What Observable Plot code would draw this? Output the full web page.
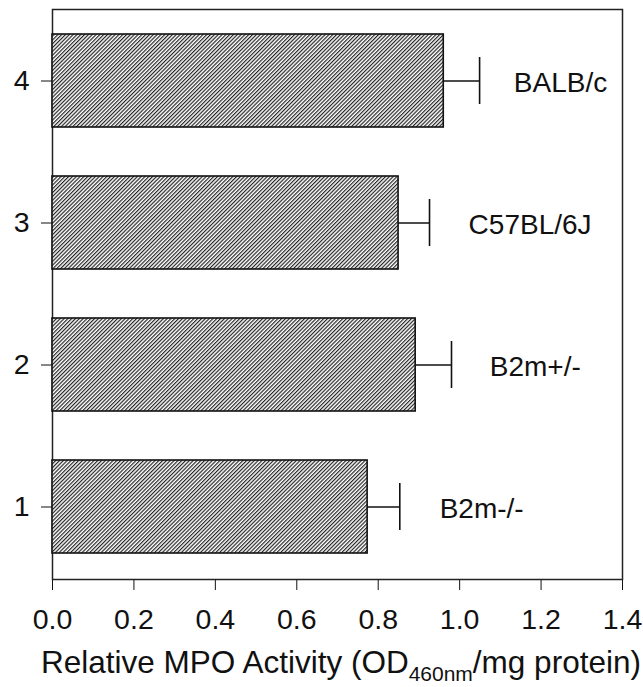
<!DOCTYPE html>
<html>
<head>
<meta charset="utf-8">
<script src="https://cdn.jsdelivr.net/npm/d3@7"></script>
<script src="https://cdn.jsdelivr.net/npm/@observablehq/plot@0.6"></script>
<style>
  html, body { margin: 0; padding: 0; background: #fff; }
</style>
</head>
<body>
<div id="chart"></div>
<script>
const categories = [1, 2, 3, 4];
const strains = ["B2m-/-", "B2m+/-", "C57BL/6J", "BALB/c"];
const means = [0.774, 0.892, 0.850, 0.961];
const errTops = [0.853, 0.980, 0.926, 1.049];
const labelX = [0.951, 1.074, 1.022, 1.133];
const xTicks = [0, 0.2, 0.4, 0.6, 0.8, 1.0, 1.2, 1.4];

const data = categories.map((c, i) => ({
  cat: c, strain: strains[i], mean: means[i], err: errTops[i], lx: labelX[i]
}));

const svg = Plot.plot({
  width: 643,
  height: 687,
  marginLeft: 52,
  marginRight: 21,
  marginTop: 9,
  marginBottom: 108,
  style: { fontFamily: "'Liberation Sans', Arial, sans-serif", fontSize: "28.5px", background: "white", color: "#111" },
  x: { domain: [0, 1.4], ticks: xTicks, tickFormat: d3.format(".1f"), tickSize: 11, tickPadding: 18, label: null },
  y: { domain: [4, 3, 2, 1], paddingInner: 0.343, paddingOuter: 0.176, tickSize: 11, tickPadding: 12, label: null },
  marks: [
    Plot.frame({ stroke: "#222", strokeWidth: 1.5 }),
    Plot.barX(data, { x: "mean", y: "cat", fill: "url(#hatch)", stroke: "#111", strokeWidth: 1.6 }),
    Plot.ruleY(data, { x1: "mean", x2: "err", y: "cat", stroke: "#111", strokeWidth: 1.5 }),
    Plot.tickX(data, { x: "err", y: "cat", insetTop: 23, insetBottom: 23, stroke: "#111", strokeWidth: 1.6 }),
    Plot.text(data, { x: "lx", y: "cat", text: "strain", textAnchor: "start", fontSize: 28, dy: 2, fill: "#111" })
  ]
});

const defs = d3.select(svg).insert("defs", ":first-child");
const pat = defs.append("pattern")
  .attr("id", "hatch")
  .attr("patternUnits", "userSpaceOnUse")
  .attr("width", 2.7)
  .attr("height", 10)
  .attr("patternTransform", "rotate(45)");
pat.append("rect").attr("width", 2.7).attr("height", 10).attr("fill", "#fff");
pat.append("line").attr("x1", 0.6).attr("x2", 0.6).attr("y1", 0).attr("y2", 10)
  .attr("stroke", "#1a1a1a").attr("stroke-width", 1.15);

const title = d3.select(svg).append("text")
  .attr("x", 341).attr("y", 673)
  .attr("text-anchor", "middle")
  .attr("font-family", "'Liberation Sans', Arial, sans-serif")
  .attr("font-size", 31.5)
  .attr("fill", "#111");
title.append("tspan").text("Relative MPO Activity (OD");
title.append("tspan").attr("font-size", 21).attr("dy", 8).text("460nm");
title.append("tspan").attr("dy", -8).text("/mg protein)");

document.getElementById("chart").appendChild(svg);
</script>
</body>
</html>
